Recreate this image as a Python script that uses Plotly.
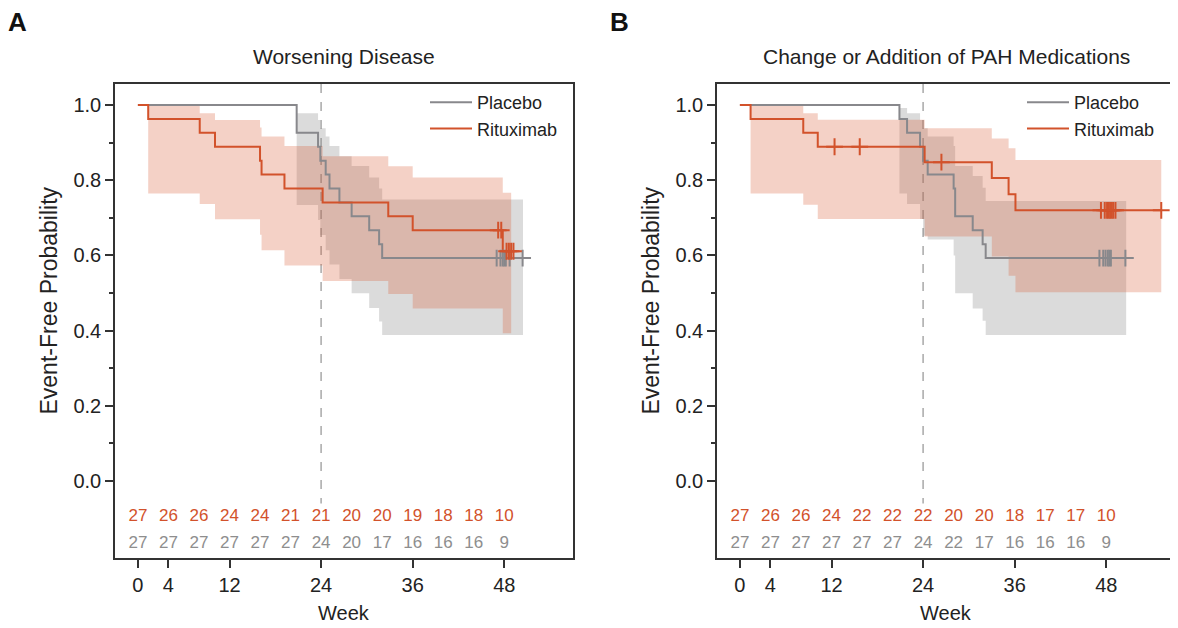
import plotly.graph_objects as go

# ---------------- data ----------------
risk_weeks = [0, 4, 8, 12, 16, 20, 24, 28, 32, 36, 40, 44, 48]
x_tick_vals = [0, 4, 12, 24, 36, 48]
y_tick_vals = [0.0, 0.2, 0.4, 0.6, 0.8, 1.0]
y_minor_vals = [0.1, 0.3, 0.5, 0.7, 0.9]

titles = ["Worsening Disease", "Change or Addition of PAH Medications"]
panel_letters = ["A", "B"]

# Panel A - Placebo
a_pla_t = [0, 20.8, 23.6, 23.9, 24.6, 25.1, 26.4, 28.0, 30.3, 31.6, 32.0]
a_pla_s = [1.0, 0.926, 0.889, 0.852, 0.815, 0.778, 0.741, 0.704, 0.667, 0.630, 0.593]
a_pla_end = 50.4
a_pla_cens = [47.0, 47.5, 47.8, 48.0, 48.2, 48.7, 50.4]
a_pla_bt = [20.8, 23.6, 23.9, 24.6, 25.1, 26.4, 28.0, 30.3, 31.6, 32.0]
a_pla_up = [0.978, 0.960, 0.938, 0.916, 0.891, 0.864, 0.838, 0.807, 0.778, 0.749]
a_pla_lo = [0.734, 0.694, 0.654, 0.614, 0.576, 0.537, 0.499, 0.460, 0.424, 0.388]
a_pla_bend = 50.45

# Panel A - Rituximab
a_rit_t = [0, 1.35, 8.1, 10.1, 16.0, 16.2, 19.2, 24.2, 32.8, 36.0, 47.8]
a_rit_s = [1.0, 0.963, 0.926, 0.889, 0.852, 0.815, 0.778, 0.741, 0.704, 0.667, 0.611]
a_rit_end = 49.2
a_rit_cens = [47.2, 47.6, 48.3, 48.6, 48.9, 49.2]
a_rit_bt = [1.35, 8.1, 10.1, 16.0, 16.2, 19.2, 24.2, 32.8, 36.0, 47.8]
a_rit_up = [0.999, 0.978, 0.960, 0.940, 0.916, 0.891, 0.864, 0.837, 0.807, 0.767]
a_rit_lo = [0.765, 0.737, 0.696, 0.655, 0.614, 0.573, 0.532, 0.497, 0.459, 0.393]
a_rit_bend = 48.9

# Panel B - Placebo
b_pla_t = [0, 20.9, 21.9, 23.6, 24.0, 24.6, 28.0, 28.2, 30.5, 31.8, 32.2]
b_pla_s = [1.0, 0.963, 0.926, 0.889, 0.852, 0.815, 0.778, 0.704, 0.667, 0.630, 0.593]
b_pla_end = 50.5
b_pla_cens = [47.1, 47.6, 47.9, 48.2, 48.4, 48.6, 50.5]
b_pla_bt = [20.9, 21.9, 23.6, 24.0, 24.6, 28.0, 28.2, 30.5, 31.8, 32.2]
b_pla_up = [0.992, 0.978, 0.960, 0.938, 0.916, 0.891, 0.838, 0.811, 0.780, 0.745]
b_pla_lo = [0.765, 0.737, 0.697, 0.652, 0.642, 0.600, 0.499, 0.459, 0.426, 0.388]
b_pla_bend = 50.6

# Panel B - Rituximab
b_rit_t = [0, 1.4, 8.3, 10.2, 24.2, 33.0, 35.2, 36.1]
b_rit_s = [1.0, 0.963, 0.926, 0.889, 0.848, 0.806, 0.763, 0.720]
b_rit_end = 55.2
b_rit_cens = [12.4, 15.7, 26.4, 47.3, 47.8, 48.1, 48.3, 48.5, 48.7, 48.9, 49.2, 55.2]
b_rit_bt = [1.4, 8.3, 10.2, 24.2, 33.0, 35.2, 36.1]
b_rit_up = [0.999, 0.978, 0.961, 0.938, 0.911, 0.885, 0.854]
b_rit_lo = [0.765, 0.735, 0.697, 0.650, 0.597, 0.546, 0.502]
b_rit_bend = 55.2

# Numbers at risk
a_rit_risk = [27, 26, 26, 24, 24, 21, 21, 20, 20, 19, 18, 18, 10]
a_pla_risk = [27, 27, 27, 27, 27, 27, 24, 20, 17, 16, 16, 16, 9]
b_rit_risk = [27, 26, 26, 24, 22, 22, 22, 20, 20, 18, 17, 17, 10]
b_pla_risk = [27, 27, 27, 27, 27, 27, 24, 22, 17, 16, 16, 16, 9]

# ---------------- style ----------------
FONT = "Liberation Sans, Arial, Helvetica, sans-serif"
RED = "#D2522B"
GRAY = "#88888C"
RED_FILL = "rgba(214,90,50,0.28)"
GRAY_FILL = "rgba(130,130,130,0.29)"
AXCOL = "#333333"

W, H = 1170, 620   # page body has an 8px margin
OFF = 8


def px(v):
    return (v - OFF) / W


def py(v):
    return 1 - (v - OFF) / H


X_RANGE = [-3, 57]
Y_RANGE = [-0.205, 1.056]
Y_DOM = [py(558), py(84)]
X_DOMS = [[px(115), px(573)], [px(717), px(1175)]]
RISK_Y_RIT = -0.095
RISK_Y_PLA = -0.168

fig = go.Figure()


def add_panel(i, pla, rit, risk_rit, risk_pla, legend_name):
    xa = "x" if i == 0 else "x2"
    ya = "y" if i == 0 else "y2"
    fig.add_trace(go.Scatter(x=[24, 24], y=[Y_RANGE[1], -0.06], mode="lines",
                             line=dict(color="#A8A8A8", width=1.5, dash="dash"),
                             xaxis=xa, yaxis=ya, showlegend=False, hoverinfo="skip"))
    for arm, fillc in ((pla, GRAY_FILL), (rit, RED_FILL)):
        t, s, end, cens, bt, up, lo, bend = arm
        fig.add_trace(go.Scatter(x=bt + [bend], y=up + [up[-1]], mode="lines",
                                 line=dict(width=0, shape="hv"),
                                 xaxis=xa, yaxis=ya, showlegend=False, hoverinfo="skip"))
        fig.add_trace(go.Scatter(x=bt + [bend], y=lo + [lo[-1]], mode="lines",
                                 line=dict(width=0, shape="hv"), fill="tonexty",
                                 fillcolor=fillc,
                                 xaxis=xa, yaxis=ya, showlegend=False, hoverinfo="skip"))
    for arm, col, name in ((pla, GRAY, "Placebo"), (rit, RED, "Rituximab")):
        t, s, end, cens, bt, up, lo, bend = arm
        fig.add_trace(go.Scatter(x=t + [end], y=s + [s[-1]], mode="lines",
                                 line=dict(color=col, width=2, shape="hv"),
                                 name=name, legend=legend_name,
                                 xaxis=xa, yaxis=ya, showlegend=True))
    for arm, col in ((pla, GRAY), (rit, RED)):
        t, s, end, cens, bt, up, lo, bend = arm
        ys = []
        for c in cens:
            v = s[0]
            for tt, ss in zip(t, s):
                if tt <= c:
                    v = ss
            ys.append(v)
        fig.add_trace(go.Scatter(x=cens, y=ys, mode="markers",
                                 marker=dict(symbol="cross-thin", size=12,
                                             line=dict(color=col, width=2)),
                                 xaxis=xa, yaxis=ya, showlegend=False, hoverinfo="skip"))
    fig.add_trace(go.Scatter(x=risk_weeks, y=[RISK_Y_RIT] * len(risk_weeks), mode="text",
                             text=[str(v) for v in risk_rit],
                             textfont=dict(family=FONT, size=17, color=RED),
                             xaxis=xa, yaxis=ya, showlegend=False, hoverinfo="skip"))
    fig.add_trace(go.Scatter(x=risk_weeks, y=[RISK_Y_PLA] * len(risk_weeks), mode="text",
                             text=[str(v) for v in risk_pla],
                             textfont=dict(family=FONT, size=17, color="#8E8E8E"),
                             xaxis=xa, yaxis=ya, showlegend=False, hoverinfo="skip"))


add_panel(0,
          (a_pla_t, a_pla_s, a_pla_end, a_pla_cens, a_pla_bt, a_pla_up, a_pla_lo, a_pla_bend),
          (a_rit_t, a_rit_s, a_rit_end, a_rit_cens, a_rit_bt, a_rit_up, a_rit_lo, a_rit_bend),
          a_rit_risk, a_pla_risk, "legend")
add_panel(1,
          (b_pla_t, b_pla_s, b_pla_end, b_pla_cens, b_pla_bt, b_pla_up, b_pla_lo, b_pla_bend),
          (b_rit_t, b_rit_s, b_rit_end, b_rit_cens, b_rit_bt, b_rit_up, b_rit_lo, b_rit_bend),
          b_rit_risk, b_pla_risk, "legend2")

xaxis_common = dict(range=X_RANGE, tickvals=x_tick_vals, ticks="outside", ticklen=8,
                    tickwidth=1.5, tickcolor=AXCOL, showline=True, linecolor=AXCOL,
                    linewidth=1.5, mirror=True, showgrid=False, zeroline=False,
                    tickfont=dict(family=FONT, size=20, color="#222222"))
yaxis_common = dict(range=Y_RANGE, tickvals=y_tick_vals, ticktext=[f"{v:.1f}" for v in y_tick_vals],
                    ticks="outside", ticklen=8, tickwidth=1.5, tickcolor=AXCOL,
                    showline=True, linecolor=AXCOL, linewidth=1.5, mirror=True,
                    showgrid=False, zeroline=False,
                    minor=dict(tickvals=y_minor_vals, ticks="outside", ticklen=4,
                               tickwidth=1.5, tickcolor=AXCOL, showgrid=False),
                    tickfont=dict(family=FONT, size=20, color="#222222"))

legend_common = dict(xanchor="left", yanchor="top", bgcolor="rgba(0,0,0,0)",
                     itemwidth=42, traceorder="normal",
                     font=dict(family=FONT, size=18, color="#222222"))

fig.update_layout(
    width=W, height=H,
    margin=dict(l=0, r=0, t=0, b=0),
    paper_bgcolor="white", plot_bgcolor="white",
    font=dict(family=FONT, color="#222222"),
    xaxis=dict(domain=X_DOMS[0], anchor="y", **xaxis_common),
    yaxis=dict(domain=Y_DOM, anchor="x", **yaxis_common),
    xaxis2=dict(domain=X_DOMS[1], anchor="y2", **xaxis_common),
    yaxis2=dict(domain=Y_DOM, anchor="x2", **yaxis_common),
    legend=dict(x=px(425), y=py(84), **legend_common),
    legend2=dict(x=px(1022), y=py(84), **legend_common),
    showlegend=True,
)

annotations = []
for i, (xd, ttl, letter) in enumerate(zip(X_DOMS, titles, panel_letters)):
    cx = (xd[0] + xd[1]) / 2
    yref = "y" if i == 0 else "y2"
    annotations.append(dict(text=ttl, x=cx, y=py(57), xref="paper", yref="paper",
                            showarrow=False, xanchor="center", yanchor="middle",
                            font=dict(family=FONT, size=21, color="#222222")))
    annotations.append(dict(text="Week", x=cx, y=py(613), xref="paper", yref="paper",
                            showarrow=False, xanchor="center", yanchor="middle",
                            font=dict(family=FONT, size=20, color="#222222")))
    annotations.append(dict(text="Event-Free Probability", x=xd[0] - 66 / W, y=0.48,
                            xref="paper", yref=yref, textangle=-90,
                            showarrow=False, xanchor="center", yanchor="middle",
                            font=dict(family=FONT, size=23, color="#222222")))
    annotations.append(dict(text=f"<b>{letter}</b>", x=xd[0] - 97 / W, y=py(22),
                            xref="paper", yref="paper", showarrow=False,
                            xanchor="center", yanchor="middle",
                            font=dict(family=FONT, size=26, color="#111111")))
fig.update_layout(annotations=annotations)

fig.write_html("out.html")
